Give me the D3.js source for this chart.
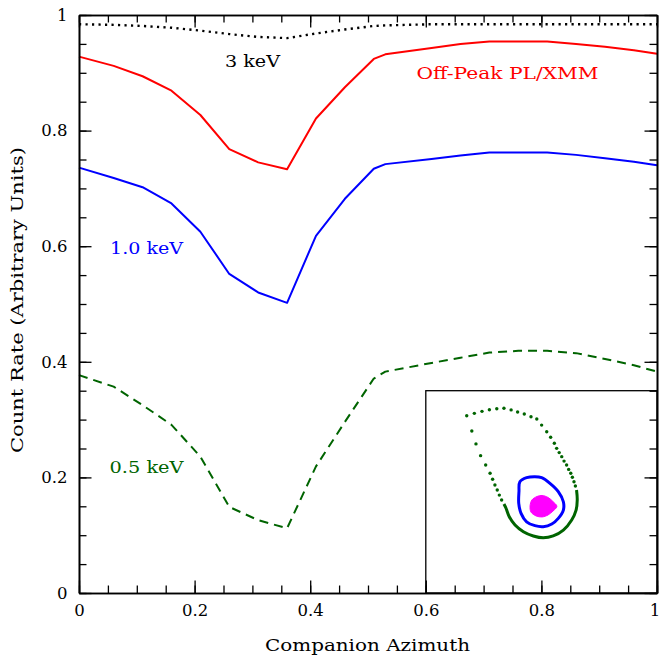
<!DOCTYPE html>
<html>
<head>
<meta charset="utf-8">
<script src="https://cdn.jsdelivr.net/npm/d3@7"></script>
<style>
  html, body { margin: 0; padding: 0; background: #fff; }
  svg { display: block; }
  text { font-family: "DejaVu Serif", "Liberation Serif", serif; }
</style>
</head>
<body>
<svg id="chart" width="660" height="658"></svg>
<script>
// Companion azimuth grid shared by all light curves
const azimuth = [0, 0.06, 0.11, 0.16, 0.21, 0.26, 0.31, 0.36, 0.41, 0.46, 0.51, 0.53,
                 0.61, 0.66, 0.71, 0.76, 0.81, 0.86, 0.91, 0.96, 1.0];

// Count rates (arbitrary units)
const rate3keV    = [0.984, 0.983, 0.981, 0.978, 0.973, 0.967, 0.962, 0.960, 0.968, 0.975, 0.981, 0.982,
                     0.984, 0.984, 0.984, 0.984, 0.984, 0.984, 0.984, 0.984, 0.984];
const rateOffPeak = [0.928, 0.912, 0.894, 0.869, 0.827, 0.768, 0.745, 0.733, 0.821, 0.875, 0.924, 0.932,
                     0.943, 0.950, 0.954, 0.954, 0.954, 0.950, 0.945, 0.939, 0.933];
const rate1keV    = [0.736, 0.718, 0.702, 0.674, 0.625, 0.552, 0.520, 0.502, 0.618, 0.682, 0.734, 0.742,
                     0.751, 0.757, 0.762, 0.762, 0.762, 0.758, 0.752, 0.746, 0.740];
const rate05keV   = [0.377, 0.357, 0.325, 0.291, 0.236, 0.149, 0.126, 0.112, 0.219, 0.296, 0.371, 0.383,
                     0.398, 0.407, 0.416, 0.419, 0.419, 0.415, 0.405, 0.394, 0.383];

// Axis ticks
const majorTicks = [0, 0.2, 0.4, 0.6, 0.8, 1];
const tickLabels = ["0", "0.2", "0.4", "0.6", "0.8", "1"];
const minorTicks = d3.range(0, 1.0001, 0.05).map(v => +v.toFixed(2));

// Inset panel placement in chart units
const insetAzimuth = [0.6, 1.0];
const insetRate = [0, 0.35];

// Inset contours, in inset units (0..1 each way)
const outerDotsTop = [[0.177,0.876],[0.210,0.888],[0.243,0.898],[0.275,0.906],[0.307,0.911],[0.338,0.913],
  [0.369,0.905],[0.397,0.895],[0.426,0.885],[0.455,0.871],[0.480,0.860],[0.501,0.830],[0.523,0.797],
  [0.540,0.770],[0.556,0.740],[0.566,0.715],[0.577,0.694],[0.588,0.674],[0.598,0.652],[0.609,0.633],
  [0.618,0.611],[0.627,0.592],[0.634,0.572],[0.641,0.550],[0.647,0.529]];
const outerDotsLeft = [[0.199,0.801],[0.217,0.737],[0.237,0.679],[0.259,0.633],[0.278,0.592],[0.289,0.562],
  [0.299,0.534],[0.309,0.509],[0.318,0.484],[0.328,0.460]];
const outerSolid = [[0.652,0.509],[0.655,0.460],[0.650,0.410],[0.631,0.361],[0.595,0.311],[0.551,0.282],
  [0.508,0.273],[0.465,0.282],[0.422,0.303],[0.386,0.336],[0.361,0.377],[0.347,0.419],[0.338,0.440]];
const middleContour = [[0.407,0.550],[0.436,0.570],[0.472,0.575],[0.501,0.570],[0.537,0.542],[0.573,0.501],
  [0.595,0.451],[0.595,0.410],[0.573,0.369],[0.545,0.341],[0.508,0.328],[0.472,0.333],[0.436,0.352],
  [0.412,0.394],[0.402,0.443],[0.403,0.501]];
const innerContour = [[0.451,0.430],[0.459,0.460],[0.481,0.477],[0.503,0.482],[0.529,0.472],[0.550,0.452],
  [0.567,0.428],[0.550,0.405],[0.529,0.386],[0.503,0.376],[0.477,0.381],[0.455,0.400]];

const GREEN = "#006400";

const svg = d3.select("#chart");
const x = d3.scaleLinear().domain([0, 1]).range([79, 657]);
const y = d3.scaleLinear().domain([0, 1]).range([593, 15]);

// Light curves
const line = d3.line().x((d, i) => x(azimuth[i])).y(d => y(d));
const curves = [
  { values: rate3keV,    color: "#000",    width: 2.4, dash: "2.2,4.3" },
  { values: rateOffPeak, color: "#ff0000", width: 2,   dash: null },
  { values: rate1keV,    color: "#0000ff", width: 2,   dash: null },
  { values: rate05keV,   color: GREEN,     width: 2,   dash: "9,6" }
];
svg.append("g").selectAll("path").data(curves).join("path")
  .attr("d", d => line(d.values))
  .attr("fill", "none")
  .attr("stroke", d => d.color)
  .attr("stroke-width", d => d.width)
  .attr("stroke-dasharray", d => d.dash)
  .attr("stroke-linejoin", "round");

// Inset panel
const ix = d3.scaleLinear().domain([0, 1]).range([x(insetAzimuth[0]), x(insetAzimuth[1])]);
const iy = d3.scaleLinear().domain([0, 1]).range([y(insetRate[0]), y(insetRate[1])]);
const inset = svg.append("g");
inset.append("rect")
  .attr("x", ix(0)).attr("y", iy(1))
  .attr("width", ix(1) - ix(0)).attr("height", iy(0) - iy(1))
  .attr("fill", "#fff").attr("stroke", "#000").attr("stroke-width", 1.3);
inset.append("path")
  .attr("d", d3.line().x(d => ix(d[0])).y(d => iy(d[1])).curve(d3.curveCatmullRomClosed)(innerContour))
  .attr("fill", "#ff00ff").attr("stroke", "#ff00ff").attr("stroke-width", 1);
inset.append("path")
  .attr("d", d3.line().x(d => ix(d[0])).y(d => iy(d[1])).curve(d3.curveCatmullRomClosed)(middleContour))
  .attr("fill", "none").attr("stroke", "#0000ff").attr("stroke-width", 3);
inset.append("path")
  .attr("d", d3.line().x(d => ix(d[0])).y(d => iy(d[1])).curve(d3.curveCatmullRom)(outerSolid))
  .attr("fill", "none").attr("stroke", GREEN).attr("stroke-width", 3);
inset.selectAll("circle").data(outerDotsTop.concat(outerDotsLeft)).join("circle")
  .attr("cx", d => ix(d[0])).attr("cy", d => iy(d[1])).attr("r", 1.7)
  .attr("fill", GREEN);

// Frame with inward ticks on all four sides
function styleAxis(g) {
  g.selectAll(".domain").attr("stroke", "#000").attr("stroke-width", 1.6);
  g.selectAll(".tick line").attr("stroke", "#000").attr("stroke-width", 1.3);
}
const axes = [
  { gen: d3.axisBottom, tr: `translate(0,${y(0)})`, scale: x, labels: true },
  { gen: d3.axisTop,    tr: `translate(0,${y(1)})`, scale: x, labels: false },
  { gen: d3.axisLeft,   tr: `translate(${x(0)},0)`, scale: y, labels: true },
  { gen: d3.axisRight,  tr: `translate(${x(1)},0)`, scale: y, labels: false }
];
axes.forEach((a, k) => {
  svg.append("g").attr("transform", a.tr)
    .call(a.gen(a.scale).tickValues(minorTicks).tickSize(-7.5).tickSizeOuter(0).tickFormat(""))
    .call(styleAxis);
  const g = svg.append("g").attr("transform", a.tr)
    .call(a.gen(a.scale).tickValues(majorTicks).tickSize(-12.5).tickSizeOuter(0)
      .tickPadding(11.5)
      .tickFormat(a.labels ? (d, i) => tickLabels[i] : ""))
    .call(styleAxis);
  g.selectAll("text").attr("font-family", "DejaVu Serif").attr("font-size", 16.5).attr("fill", "#000");
  // keep the last bottom label inside the page edge
  if (k === 0) g.selectAll("text").filter(d => d === 1).attr("dx", -2.5);
});

// Curve labels
const labels = [
  { text: "3 keV",           x: 225,   y: 67,    w: 55,  color: "#000" },
  { text: "Off-Peak PL/XMM", x: 416.5, y: 78.5,  w: 182, color: "#ff0000" },
  { text: "1.0 keV",         x: 110,   y: 253.5, w: 73,  color: "#0000ff" },
  { text: "0.5 keV",         x: 109.5, y: 473,   w: 74,  color: GREEN }
];
svg.append("g").selectAll("text").data(labels).join("text")
  .attr("x", d => d.x).attr("y", d => d.y)
  .attr("textLength", d => d.w).attr("lengthAdjust", "spacingAndGlyphs")
  .attr("font-size", 16.5).attr("fill", d => d.color)
  .text(d => d.text);

// Axis titles
svg.append("text")
  .attr("x", 265).attr("y", 650.5)
  .attr("textLength", 205).attr("lengthAdjust", "spacingAndGlyphs")
  .attr("font-size", 17).attr("fill", "#000")
  .text("Companion Azimuth");
svg.append("text")
  .attr("transform", "translate(23,453) rotate(-90)")
  .attr("textLength", 306).attr("lengthAdjust", "spacingAndGlyphs")
  .attr("font-size", 17).attr("fill", "#000")
  .text("Count Rate (Arbitrary Units)");
</script>
</body>
</html>
